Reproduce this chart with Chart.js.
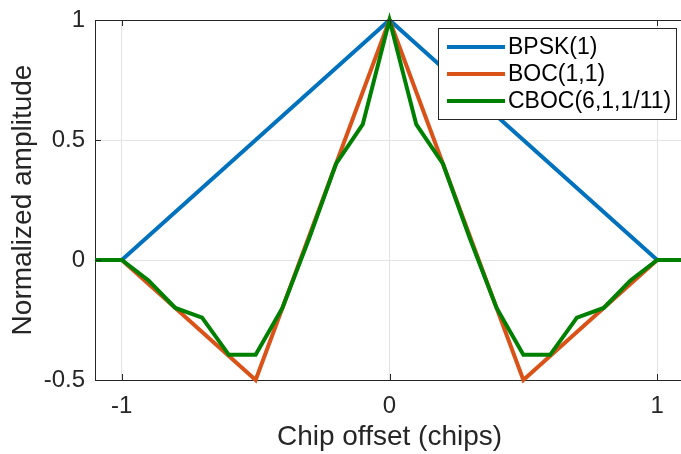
<!DOCTYPE html>
<html lang="en">
<head>
  <meta charset="UTF-8">
  <title>Correlation functions</title>
  <script src="https://cdn.jsdelivr.net/npm/chart.js"></script>
  <style>
    html, body { margin: 0; padding: 0; background: #fff; overflow: hidden; }
    #wrap { width: 681px; height: 454px; overflow: hidden; }
  </style>
</head>
<body>
  <div id="wrap">
    <canvas id="corrChart" width="690" height="454"></canvas>
  </div>

  <script>
    // chip offsets (x) shared by all three curves
    const offsets = [-1.1, -1.0, -0.9, -0.8, -0.7, -0.6, -0.5, -0.4, -0.3, -0.2, -0.1, 0,
                     0.1, 0.2, 0.3, 0.4, 0.5, 0.6, 0.7, 0.8, 0.9, 1.0, 1.1];
    const bpsk = [0, 0, 0.1, 0.2, 0.3, 0.4, 0.5, 0.6, 0.7, 0.8, 0.9, 1,
                  0.9, 0.8, 0.7, 0.6, 0.5, 0.4, 0.3, 0.2, 0.1, 0, 0];
    const boc = [0, 0, -0.1, -0.2, -0.3, -0.4, -0.5, -0.2, 0.1, 0.4, 0.7, 1,
                 0.7, 0.4, 0.1, -0.2, -0.5, -0.4, -0.3, -0.2, -0.1, 0, 0];
    const cboc = [0, 0, -0.085, -0.2, -0.24, -0.395, -0.395, -0.2, 0.09, 0.4, 0.565, 1,
                  0.565, 0.4, 0.09, -0.2, -0.395, -0.395, -0.24, -0.2, -0.085, 0, 0];
    const seriesNames = ['BPSK(1)', 'BOC(1,1)', 'CBOC(6,1,1/11)'];
    const xTicks = [-1, 0, 1];
    const yTicks = [-0.5, 0, 0.5, 1];

    const axisColor = '#262626';
    const fontFamily = '"Liberation Sans", Arial, sans-serif';
    const toPoints = ys => offsets.map((x, i) => ({ x: x, y: ys[i] }));

    // inward tick marks, top border and the boxed legend (MATLAB look)
    const matlabAxes = {
      id: 'matlabAxes',
      afterDatasetsDraw(chart) {
        const ctx = chart.ctx;
        const area = chart.chartArea;
        const xs = chart.scales.x, ys = chart.scales.y;
        const tl = 6;
        ctx.save();
        ctx.strokeStyle = axisColor;
        ctx.lineWidth = 1;
        ctx.beginPath();
        // top border
        ctx.moveTo(area.left, Math.round(area.top) + 0.5);
        ctx.lineTo(area.right, Math.round(area.top) + 0.5);
        xTicks.forEach(v => {
          const px = Math.round(xs.getPixelForValue(v)) + 0.5;
          ctx.moveTo(px, area.bottom);
          ctx.lineTo(px, area.bottom - tl);
          ctx.moveTo(px, area.top);
          ctx.lineTo(px, area.top + tl);
        });
        yTicks.forEach(v => {
          const py = Math.round(ys.getPixelForValue(v)) + 0.5;
          ctx.moveTo(area.left, py);
          ctx.lineTo(area.left + tl, py);
        });
        ctx.stroke();

        // legend
        const bx = 438.5, by = 28.5, bw = 238, bh = 91;
        ctx.fillStyle = '#fff';
        ctx.fillRect(bx, by, bw, bh);
        ctx.strokeStyle = axisColor;
        ctx.strokeRect(bx, by, bw, bh);
        const rowY = [47, 74, 101];
        ctx.font = '23px ' + fontFamily;
        ctx.textBaseline = 'middle';
        ctx.textAlign = 'left';
        chart.data.datasets.forEach((ds, i) => {
          ctx.strokeStyle = ds.borderColor;
          ctx.lineWidth = 4;
          ctx.beginPath();
          ctx.moveTo(447, rowY[i]);
          ctx.lineTo(505, rowY[i]);
          ctx.stroke();
          ctx.fillStyle = '#000';
          ctx.fillText(ds.label, 508, rowY[i] + 1);
        });
        ctx.restore();
      }
    };

    const ctx = document.getElementById('corrChart').getContext('2d');
    new Chart(ctx, {
      type: 'line',
      data: {
        datasets: [
          { label: seriesNames[0], data: toPoints(bpsk), borderColor: '#0072BD', order: 3 },
          { label: seriesNames[1], data: toPoints(boc), borderColor: '#D95319', order: 2 },
          { label: seriesNames[2], data: toPoints(cboc), borderColor: '#008000', order: 1 }
        ]
      },
      options: {
        responsive: false,
        animation: false,
        layout: { padding: { top: 20, right: 6, left: 0, bottom: 0 } },
        elements: {
          line: { borderWidth: 4, tension: 0, borderJoinStyle: 'miter', fill: false },
          point: { radius: 0, hoverRadius: 0 }
        },
        datasets: { line: { clip: false } },
        plugins: {
          legend: { display: false },
          tooltip: { enabled: false }
        },
        scales: {
          x: {
            type: 'linear',
            min: -1.1,
            max: 1.1,
            afterBuildTicks: scale => { scale.ticks = xTicks.map(v => ({ value: v })); },
            afterFit: scale => {
              scale.height = 74;
              scale.paddingLeft = 0;
              scale.paddingRight = 0;
            },
            grid: { color: '#e3e3e3', drawTicks: false },
            border: { color: axisColor, width: 1 },
            ticks: {
              padding: 12,
              color: axisColor,
              font: { family: fontFamily, size: 24 },
              callback: v => String(v),
              maxRotation: 0
            },
            title: {
              display: true,
              text: 'Chip offset (chips)',
              color: axisColor,
              padding: { top: 0, bottom: 0 },
              font: { family: fontFamily, size: 28 }
            }
          },
          y: {
            min: -0.5,
            max: 1,
            afterBuildTicks: scale => { scale.ticks = yTicks.map(v => ({ value: v })); },
            afterFit: scale => {
              scale.width = 95;
              scale.paddingTop = 0;
              scale.paddingBottom = 0;
            },
            grid: { color: '#e3e3e3', drawTicks: false },
            border: { color: axisColor, width: 1 },
            ticks: {
              padding: 10,
              color: axisColor,
              font: { family: fontFamily, size: 24 },
              callback: v => String(v)
            },
            title: {
              display: true,
              text: 'Normalized amplitude',
              color: axisColor,
              padding: { top: 6, bottom: 0 },
              font: { family: fontFamily, size: 28 }
            }
          }
        }
      },
      plugins: [matlabAxes]
    });
  </script>
</body>
</html>
